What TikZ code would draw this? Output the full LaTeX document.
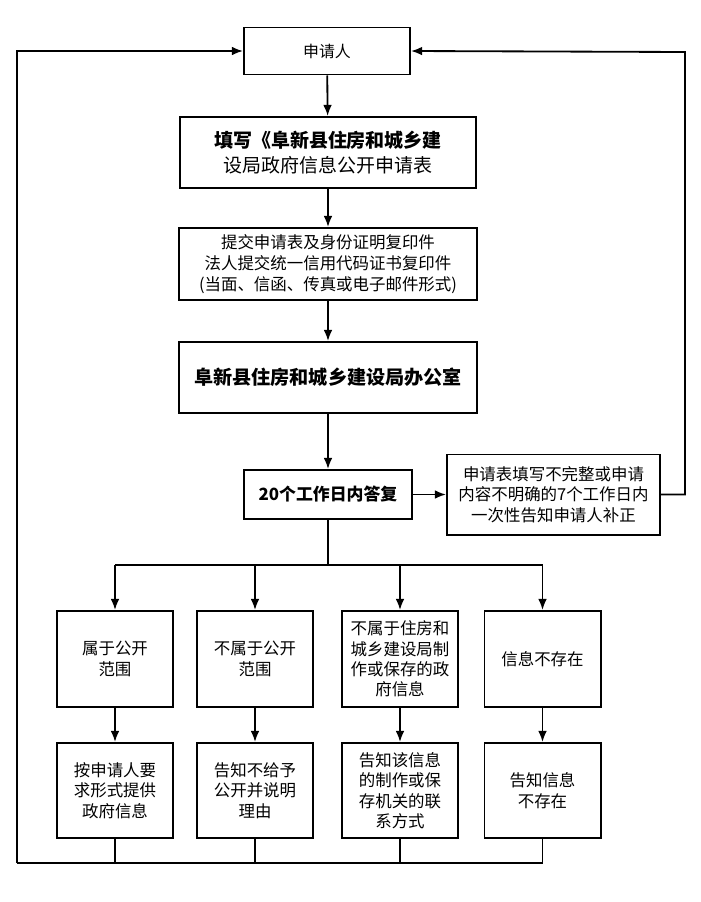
\documentclass[tikz,border=0pt]{standalone}
\usepackage{fontspec}
\setmainfont{Noto Sans CJK SC}
\usepackage{tikz}
\usetikzlibrary{arrows.meta}

\begin{document}
\begin{tikzpicture}[x=0.025cm,y=-0.025cm,
  box/.style={draw,line width=1.4pt,align=center,inner sep=2pt,font=\fontsize{11.7}{14.5}\selectfont},
  arrow/.style={line width=1.3pt,-{Latex[length=2.8mm,width=2.2mm]}},
  link/.style={line width=1.3pt}]
\useasboundingbox (0,0) rectangle (700,902);

% Main column
\node[box,minimum width=4.15cm,minimum height=1.175cm,font=\fontsize{11.3}{14}\selectfont] (app) at (327,51) {申请人};
\node[box,minimum width=7.4cm,minimum height=1.775cm,font=\fontsize{13.5}{17.7}\selectfont] (fill) at (328,152.5)
  {\textbf{填写《阜新县住房和城乡建}\\设局政府信息公开申请表};
\node[box,minimum width=7.45cm,minimum height=1.8cm,font=\fontsize{11.7}{14.9}\selectfont] (submit) at (328,264)
  {提交申请表及身份证明复印件\\法人提交统一信用代码证书复印件\\(当面、信函、传真或电子邮件形式)};
\node[box,minimum width=7.45cm,minimum height=1.775cm,font=\bfseries\fontsize{13.6}{17}\selectfont] (office) at (328,377.5)
  {阜新县住房和城乡建设局办公室};
\node[box,minimum width=4.2cm,minimum height=1.225cm,font=\bfseries\fontsize{12}{15}\selectfont] (reply) at (328,494.5)
  {20个工作日内答复};
\node[box,minimum width=5.325cm,minimum height=2cm] (fix) at (553.5,494.5)
  {申请表填写不完整或申请\\内容不明确的7个工作日内\\一次性告知申请人补正};

% Four outcomes
\foreach \x/\i/\top/\bot in {
    115/1/{属于公开\\范围}/{按申请人要\\求形式提供\\政府信息},
    255/2/{不属于公开\\范围}/{告知不给予\\公开并说明\\理由},
    400/3/{不属于住房和\\城乡建设局制\\作或保存的政\\府信息}/{告知该信息\\的制作或保\\存机关的联\\系方式},
    542.5/4/{信息不存在}/{告知信息\\不存在}} {
  \node[box,minimum width=2.9cm,minimum height=2.4cm] (c\i) at (\x,659) {\top};
  \node[box,minimum width=2.9cm,minimum height=2.375cm] (d\i) at (\x,790.5) {\bot};
}

% Connectors
\coordinate (br) at (328,565);
\coordinate (bt) at (17,863);
\coordinate (rt) at (685,52);
\draw[arrow] (app) -- (fill);
\draw[arrow] (fill) -- (submit);
\draw[arrow] (submit) -- (office);
\draw[arrow] (office) -- (reply);
\draw[arrow] (reply) -- (fix);
\draw[arrow] (fix.east) -| (rt) -- (app.east);
\draw[link] (reply) -- (br);
\draw[link] (c1 |- br) -- (c4 |- br);
\foreach \i in {1,...,4} {
  \draw[arrow] (c\i |- br) -- (c\i);
  \draw[arrow] (c\i) -- (d\i);
  \draw[link] (d\i) -- (d\i |- bt);
}
\draw[link] (bt) -- (d4 |- bt);
\draw[arrow] (bt) |- (app.west);
\end{tikzpicture}
\end{document}
